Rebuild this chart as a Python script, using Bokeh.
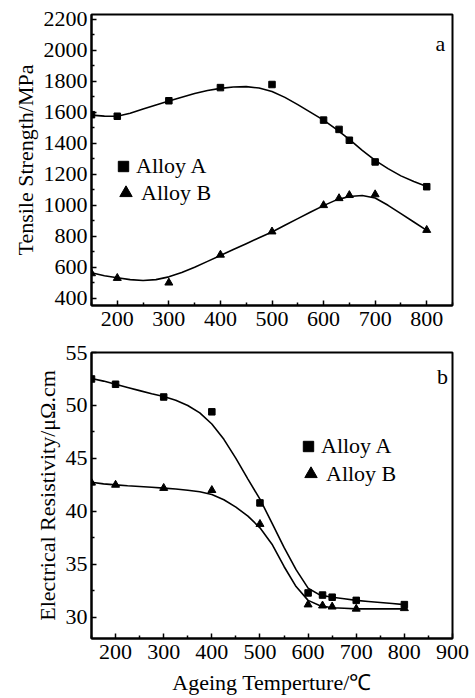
from bokeh.plotting import figure
from bokeh.models import FixedTicker, Range1d, Legend, LegendItem, Label
from bokeh.layouts import column
from bokeh.embed import file_html
from bokeh.resources import INLINE

FONT = "Liberation Serif"

# measured points
temps = [150, 200, 300, 400, 500, 600, 630, 650, 700, 800]
ts_a = [1585, 1575, 1675, 1760, 1780, 1550, 1490, 1420, 1280, 1120]
ts_b = [560, 530, 500, 680, 830, 1000, 1045, 1065, 1070, 840]
er_a = [52.5, 52.0, 50.8, 49.4, 40.8, 32.3, 32.1, 31.9, 31.6, 31.2]
er_b = [42.7, 42.5, 42.2, 42.0, 38.8, 31.2, 31.1, 31.0, 30.8, 30.85]

# fitted curves
fit_t = [150, 175, 200, 225, 250, 275, 300, 325, 350, 375, 400, 425, 450, 475,
         500, 525, 550, 575, 600, 625, 650, 675, 700, 725, 750, 775, 800]
ts_a_fit = [1582, 1576, 1575, 1594, 1622, 1648, 1673, 1698, 1722, 1741, 1755, 1764, 1766, 1757,
            1735, 1697, 1650, 1600, 1550, 1490, 1425, 1355, 1290, 1237, 1190, 1153, 1121]
ts_b_fit = [565, 545, 532, 520, 514, 520, 538, 566, 600, 638, 676, 714, 752, 790,
            828, 871, 914, 957, 998, 1035, 1057, 1063, 1047, 1000, 946, 892, 838]
er_a_fit = [52.55, 52.3, 52.0, 51.7, 51.4, 51.1, 50.85, 50.5, 50.0, 49.3, 48.25, 46.8, 45.0, 43.05,
            41.15, 38.9, 36.6, 34.5, 32.75, 32.1, 31.9, 31.75, 31.6, 31.5, 31.4, 31.3, 31.2]
er_b_fit = [42.75, 42.6, 42.5, 42.42, 42.35, 42.28, 42.2, 42.12, 42.0, 41.85, 41.6, 41.1, 40.4, 39.55,
            38.45, 36.9, 34.8, 32.9, 31.6, 31.1, 30.9, 30.85, 30.8, 30.8, 30.8, 30.8, 30.8]

series_names = ["Alloy A", "Alloy B"]

# ticks
top_x_ticks = [200, 300, 400, 500, 600, 700, 800]
top_x_minor = [150, 250, 350, 450, 550, 650, 750, 850]
top_y_ticks = [400, 600, 800, 1000, 1200, 1400, 1600, 1800, 2000, 2200]
top_y_minor = [500, 700, 900, 1100, 1300, 1500, 1700, 1900, 2100]
bot_x_ticks = [200, 300, 400, 500, 600, 700, 800, 900]
bot_x_minor = [150, 250, 350, 450, 550, 650, 750, 850]
bot_y_ticks = [30, 35, 40, 45, 50, 55]
bot_y_minor = [32.5, 37.5, 42.5, 47.5, 52.5]


def make_fig(height, xr, yr, btop, bbot):
    p = figure(width=475, height=height, x_range=Range1d(*xr), y_range=Range1d(*yr),
               output_backend="svg", toolbar_location=None,
               min_border_left=91, min_border_right=23,
               min_border_top=btop, min_border_bottom=bbot)
    p.grid.visible = False
    p.background_fill_color = "white"
    p.border_fill_color = "white"
    p.outline_line_color = "black"
    p.outline_line_width = 2
    p.outline_line_alpha = 1
    for ax in (p.xaxis[0], p.yaxis[0]):
        ax.axis_line_width = 2
        ax.axis_line_color = "black"
        ax.major_tick_in = 5
        ax.major_tick_out = 0
        ax.minor_tick_in = 3
        ax.minor_tick_out = 0
        ax.major_tick_line_width = 1.5
        ax.minor_tick_line_width = 1.5
        ax.major_tick_line_color = "black"
        ax.minor_tick_line_color = "black"
        ax.major_label_text_font = FONT
        ax.major_label_text_font_size = "22px"
        ax.major_label_text_color = "black"
        ax.axis_label_text_font = FONT
        ax.axis_label_text_font_size = "22px"
        ax.axis_label_text_font_style = "normal"
        ax.axis_label_text_color = "black"
        ax.major_label_standoff = 4
        ax.axis_label_standoff = 3
    p.xaxis[0].major_label_standoff = 6
    return p


def add_series(p, xs, ya, yb, xf, yfa, yfb, leg_a, leg_b):
    p.line(xf, yfa, line_color="black", line_width=1.6)
    p.line(xf, yfb, line_color="black", line_width=1.6)
    ra = p.scatter(xs, ya, marker="square", size=6.5, fill_color="black", line_color="black")
    rb = p.scatter(xs, yb, marker="triangle", size=8, fill_color="black", line_color="black")
    for r, name, loc, gs in ((ra, series_names[0], leg_a, 26), (rb, series_names[1], leg_b, 31)):
        lg = Legend(items=[LegendItem(label=name, renderers=[r])], location=loc,
                    glyph_width=gs, glyph_height=gs, label_height=gs, label_standoff=0,
                    padding=0, margin=0, spacing=0,
                    border_line_alpha=0, background_fill_alpha=0,
                    label_text_font=FONT, label_text_font_size="22px", label_text_color="black")
        p.add_layout(lg)


# Top panel
p1 = make_fig(340, (150, 850), (353, 2232), 14, 35)
p1.xaxis[0].ticker = FixedTicker(ticks=top_x_ticks, minor_ticks=top_x_minor)
p1.yaxis[0].ticker = FixedTicker(ticks=top_y_ticks, minor_ticks=top_y_minor)
p1.yaxis[0].axis_label = "Tensile Strength/MPa"
add_series(p1, temps, ts_a, ts_b, fit_t, ts_a_fit, ts_b_fit, (19, 126), (19, 97))
p1.add_layout(Label(x=349, y=262, x_units="screen", y_units="screen", text="a",
                    text_font=FONT, text_font_size="22px", text_align="center",
                    text_baseline="alphabetic", text_color="black"))

# Bottom panel
p2 = make_fig(358, (150, 900), (28, 55), 12, 60)
p2.xaxis[0].ticker = FixedTicker(ticks=bot_x_ticks, minor_ticks=bot_x_minor)
p2.yaxis[0].ticker = FixedTicker(ticks=bot_y_ticks, minor_ticks=bot_y_minor)
p2.yaxis[0].axis_label = "Electrical Resistivity/μΩ.cm"
p2.xaxis[0].axis_label = "Ageing Temperture/℃"
p2.xaxis[0].axis_label_standoff = 8
add_series(p2, temps, er_a, er_b, fit_t, er_a_fit, er_b_fit, (204, 179), (204, 149))
p2.add_layout(Label(x=351, y=262, x_units="screen", y_units="screen", text="b",
                    text_font=FONT, text_font_size="22px", text_align="center",
                    text_baseline="alphabetic", text_color="black"))

layout = column(p1, p2, spacing=0)
open("out.html", "w").write(file_html(layout, INLINE))
